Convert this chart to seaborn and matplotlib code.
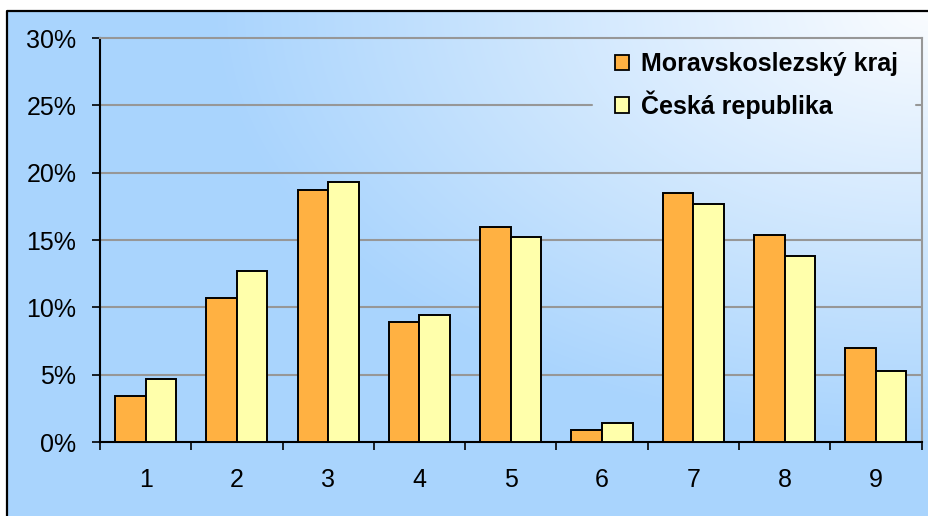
import numpy as np
import pandas as pd
import matplotlib
matplotlib.use("Agg")
import matplotlib.pyplot as plt
import matplotlib.patches as mpatches
import seaborn as sns

# ---- data ----
categories = ["1", "2", "3", "4", "5", "6", "7", "8", "9"]
moravskoslezsky = [3.4, 10.7, 18.7, 8.9, 16.0, 0.9, 18.5, 15.4, 7.0]
ceska_republika = [4.7, 12.7, 19.3, 9.4, 15.2, 1.4, 17.7, 13.8, 5.3]
series_names = ["Moravskoslezský kraj", "Česká republika"]
y_ticks = [0, 5, 10, 15, 20, 25, 30]
y_labels = ["0%", "5%", "10%", "15%", "20%", "25%", "30%"]
colors = ["#FFB142", "#FFFFAB"]

df = pd.DataFrame({
    "cat": categories * 2,
    "value": moravskoslezsky + ceska_republika,
    "series": [series_names[0]] * len(categories) + [series_names[1]] * len(categories),
})

sns.set_style("ticks")
plt.rcParams["font.family"] = ["Liberation Sans", "DejaVu Sans"]
plt.rcParams["text.color"] = "black"

W, H = 929, 516
fig = plt.figure(figsize=(W / 100, H / 100), dpi=100, facecolor="white")

# ---- background gradient inside the frame ----
blue = np.array([0xA9, 0xD4, 0xFD]) / 255.0
white = np.array([0xFA, 0xFC, 0xFF]) / 255.0
xx, yy = np.meshgrid(np.arange(W) + 0.5, np.arange(H) + 0.5)
dist = np.sqrt(((W - xx) / 720.0) ** 2 + ((yy - 10) / 430.0) ** 2)
t = np.clip(1 - dist, 0, 1)[..., None]
img = blue * (1 - t) + white * t
mask = (xx < 7) | (yy < 11)
img[mask] = 1.0

bg = fig.add_axes([0, 0, 1, 1], zorder=0)
bg.imshow(img, extent=(0, W, H, 0), origin="upper", interpolation="bilinear")
bg.set_xlim(0, W)
bg.set_ylim(H, 0)
bg.axis("off")
bg.plot([7, 7, W + 5], [H + 5, 11, 11], color="black", lw=1.6, solid_capstyle="butt")

# ---- main axes ----
left, right, top, bottom = 100, 921.5, 38, 442
ax = fig.add_axes([left / W, 1 - bottom / H, (right - left) / W, (bottom - top) / H], zorder=1)
ax.patch.set_alpha(0)

sns.barplot(data=df, x="cat", y="value", hue="series", order=categories,
            hue_order=series_names, palette=colors, saturation=1,
            width=0.67, edgecolor="black", linewidth=1.4, ax=ax, legend=False,
            zorder=3)

ax.set_ylim(0, 30)
ax.set_xlim(-0.5, len(categories) - 0.5)
ax.set_yticks(y_ticks)
ax.set_yticklabels(y_labels)
ax.set_xticks(range(len(categories)))
ax.set_xticklabels(categories)
ax.set_xticks(np.arange(-0.5, len(categories), 1.0), minor=True)
ax.set_xlabel("")
ax.set_ylabel("")

# gridlines (the 25% line is interrupted by the legend)
for yv in y_ticks[1:-1]:
    if yv == 25:
        ax.axhline(yv, xmin=0, xmax=(592 - left) / (right - left), color="#979797", lw=1.5, zorder=1)
        ax.axhline(yv, xmin=(916 - left) / (right - left), xmax=1, color="#979797", lw=1.5, zorder=1)
    else:
        ax.axhline(yv, color="#979797", lw=1.5, zorder=1)

ax.tick_params(axis="x", which="major", length=0, pad=19, labelsize=18, colors="black")
ax.tick_params(axis="x", which="minor", length=6, width=1.2, direction="out", color="black")
ax.tick_params(axis="y", length=6, width=1.2, direction="out", pad=11, labelsize=18, colors="black")

for s in ["left", "bottom"]:
    ax.spines[s].set_color("black")
    ax.spines[s].set_linewidth(1.5)
for s in ["top", "right"]:
    ax.spines[s].set_visible(True)
    ax.spines[s].set_color("#979797")
    ax.spines[s].set_linewidth(1.5)

# ---- legend ----
handles = [mpatches.Patch(facecolor=c, edgecolor="black", lw=1.3) for c in colors]
leg = ax.legend(handles, series_names, loc="upper left",
                bbox_to_anchor=(602 / W, 1 - 40 / H), bbox_transform=fig.transFigure,
                borderaxespad=0, borderpad=0.5, frameon=False,
                prop={"weight": "bold", "size": 18}, labelcolor="black",
                handlelength=0.56, handleheight=0.56, handletextpad=0.5,
                labelspacing=0.55)
leg.set_zorder(5)

fig.savefig("out.png", dpi=100, facecolor="white")
